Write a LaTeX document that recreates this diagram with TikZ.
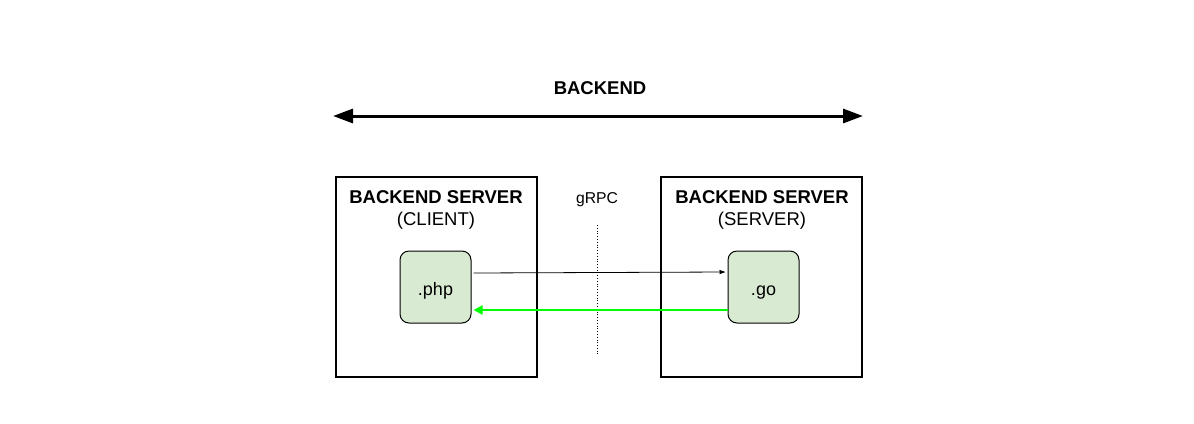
\documentclass[tikz,border=0pt]{standalone}
\usepackage{fontspec}
\setmainfont{Liberation Sans}
\usetikzlibrary{arrows.meta}
\definecolor{boxgreen}{HTML}{D9EAD3}
\definecolor{arrgreen}{HTML}{00FF00}
\begin{document}
\begin{tikzpicture}[x=1bp,y=-1bp,
  lbl/.style={inner sep=0pt,anchor=base,font=\fontsize{18.5bp}{22bp}\selectfont},
  blbl/.style={inner sep=0pt,anchor=base,font=\bfseries\fontsize{18.5bp}{22bp}\selectfont},
  outerbox/.style={draw,line width=2bp,minimum width=201bp,minimum height=200bp,inner sep=0pt},
  filebox/.style={draw,line width=1bp,fill=boxgreen,rounded corners=9bp,minimum width=71bp,minimum height=72bp,inner sep=0pt}]
\useasboundingbox (0,0) rectangle (1194,423);
\node[blbl] (title) at (600,94) {BACKEND};
\coordinate (bl) at (333,116);
\coordinate (br) at (863,116);
\draw[line width=3bp,{Triangle[length=20bp,width=14bp]}-{Triangle[length=20bp,width=14bp]}] (bl) -- (br);
\node[outerbox] (client) at (436,277) {};
\node[outerbox] (server) at (761.5,277) {};
\node[blbl] (ct) at (436,203.5) {BACKEND SERVER};
\node[lbl] (cs) at (436,225) {(CLIENT)};
\node[blbl] (st) at (762,203.5) {BACKEND SERVER};
\node[lbl] (ss) at (762,225) {(SERVER)};
\node[lbl,font=\fontsize{15.7bp}{18bp}\selectfont] (grpc) at (597,203) {gRPC};
\coordinate (dt) at (597,225);
\coordinate (db) at (597,355);
\draw[line width=0.8bp,dotted] (dt) -- (db);
\node[filebox] (php) at (435.5,287) {};
\node[lbl,font=\fontsize{18bp}{20bp}\selectfont] (phpt) at (435.5,295) {.php};
\node[filebox] (go) at (763.5,287) {};
\node[lbl,font=\fontsize{18bp}{20bp}\selectfont] (got) at (763.5,295) {.go};
\draw[line width=0.8bp,-{Triangle[length=6bp,width=4bp]}] ([xshift=2bp,yshift=14bp]php.east) -- ([xshift=-2bp,yshift=15bp]go.west);
\draw[line width=2.5bp,arrgreen,-{Triangle[length=9bp,width=9bp]}] ([yshift=-23bp]go.west) -- ([xshift=2bp,yshift=-23bp]php.east);
\end{tikzpicture}
\end{document}
